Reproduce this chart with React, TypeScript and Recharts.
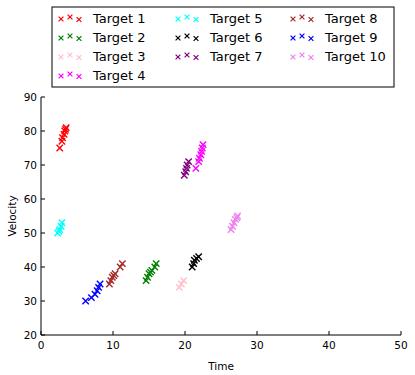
import React from "react";
import { ScatterChart, Scatter, XAxis, YAxis } from "recharts";

// time / velocity pairs, one list per target
const target1 = [[2.6, 75], [2.9, 77], [3.0, 78], [3.2, 79], [3.3, 80], [3.4, 80.5], [3.5, 81]];
const target2 = [[14.6, 36], [14.8, 37], [15.0, 38], [15.2, 38.5], [15.4, 39], [15.8, 40], [16.0, 41]];
const target3 = [[19.2, 34], [19.5, 35], [19.8, 36]];
const target4 = [[21.5, 69], [21.9, 71], [22.0, 72], [22.2, 73], [22.3, 74], [22.4, 75], [22.5, 76]];
const target5 = [[2.3, 50], [2.5, 50.5], [2.6, 51], [2.8, 52], [2.9, 53]];
const target6 = [[21.0, 40], [21.2, 41], [21.3, 42], [21.6, 42.5], [21.9, 43]];
const target7 = [[19.9, 67], [20.1, 68], [20.2, 69], [20.3, 70], [20.5, 71]];
const target8 = [[9.5, 35], [9.7, 36], [9.9, 37], [10.1, 37.5], [10.3, 38], [11.0, 40], [11.3, 41]];
const target9 = [[6.2, 30], [7.0, 31], [7.5, 32], [7.8, 33], [8.0, 34], [8.2, 35]];
const target10 = [[26.4, 51], [26.6, 52], [26.8, 53], [27.0, 54], [27.2, 54.5], [27.3, 55]];

const targetNames = ["Target 1", "Target 2", "Target 3", "Target 4", "Target 5", "Target 6", "Target 7", "Target 8", "Target 9", "Target 10"];
const targetColors = ["#ff0000", "#008000", "#ffc0cb", "#ff00ff", "#00ffff", "#000000", "#800080", "#a52a2a", "#0000ff", "#ee82ee"];
const targetPoints = [target1, target2, target3, target4, target5, target6, target7, target8, target9, target10];

const xTicks = [0, 10, 20, 30, 40, 50];
const yTicks = [20, 30, 40, 50, 60, 70, 80, 90];

const FONT = "DejaVu Sans, sans-serif";
const AXIS_FONT = 10.5;

const makeMark = (color: string, r = 3.2, w = 1.4) => (props: any) => {
  const { cx, cy } = props;
  return (
    <path
      d={`M${cx - r},${cy - r}L${cx + r},${cy + r}M${cx - r},${cy + r}L${cx + r},${cy - r}`}
      stroke={color}
      strokeWidth={w}
      fill="none"
    />
  );
};

const BottomTick = ({ x, y, payload }: any) => (
  <g>
    <line x1={x} x2={x} y1={y} y2={y - 4} stroke="#000" />
    <text x={x} y={y + 14} textAnchor="middle" fontSize={AXIS_FONT} fontFamily={FONT} fill="#000">
      {payload.value}
    </text>
  </g>
);

const TopTick = ({ x, y }: any) => <line x1={x} x2={x} y1={y} y2={y + 4} stroke="#000" />;

const LeftTick = ({ x, y, payload }: any) => (
  <g>
    <line x1={x} x2={x + 4} y1={y} y2={y} stroke="#000" />
    <text x={x - 4} y={y} dy="0.36em" textAnchor="end" fontSize={AXIS_FONT} fontFamily={FONT} fill="#000">
      {payload.value}
    </text>
  </g>
);

const RightTick = ({ x, y }: any) => <line x1={x} x2={x - 4} y1={y} y2={y} stroke="#000" />;

// legend columns, matplotlib style (column-major, 4 rows)
const legendColumns = [[0, 1, 2, 3], [4, 5, 6], [7, 8, 9]];
const legendColX = [61, 178, 293];

const LegendBox = () => (
  <svg
    width={344}
    height={82}
    style={{ position: "absolute", left: 51, top: 6 }}
  >
    <rect x={1} y={1} width={342} height={80} fill="#fff" stroke="#000" strokeWidth={1} />
    {legendColumns.map((col, ci) =>
      col.map((idx, ri) => {
        const bx = legendColX[ci] - 51;
        const cy = 12.5 + ri * 19;
        const mark = makeMark(targetColors[idx], 2.4, 1.2);
        return (
          <g key={idx}>
            {mark({ cx: bx, cy: cy + 0.5 })}
            {mark({ cx: bx + 9, cy: cy - 1.5 })}
            {mark({ cx: bx + 18, cy: cy + 1 })}
            <text x={bx + 32} y={cy} dy="0.36em" fontSize={13} fontFamily={FONT} fill="#000">
              {targetNames[idx]}
            </text>
          </g>
        );
      })
    )}
  </svg>
);

export default function App() {
  return (
    <div style={{ position: "absolute", left: 0, top: 0, width: 415, height: 375, background: "#fff" }}>
      <ScatterChart width={415} height={375} margin={{ top: 97, right: 14, bottom: 0, left: 0 }}>
        <XAxis
          xAxisId="b"
          type="number"
          dataKey="x"
          domain={[0, 50]}
          ticks={xTicks}
          interval={0}
          height={40}
          tickSize={0}
          tickMargin={0}
          tickLine={false}
          axisLine={{ stroke: "#000" }}
          tick={<BottomTick />}
          label={{
            value: "Time",
            position: "insideBottom",
            offset: 5,
            fontSize: AXIS_FONT,
            fontFamily: FONT,
            fill: "#000",
          }}
        />
        <XAxis
          xAxisId="t"
          orientation="top"
          type="number"
          domain={[0, 50]}
          ticks={xTicks}
          interval={0}
          height={0}
          tickSize={0}
          tickMargin={0}
          tickLine={false}
          axisLine={{ stroke: "#000" }}
          tick={<TopTick />}
        />
        <YAxis
          yAxisId="l"
          type="number"
          dataKey="y"
          domain={[20, 90]}
          ticks={yTicks}
          interval={0}
          width={41}
          tickSize={0}
          tickMargin={0}
          tickLine={false}
          axisLine={{ stroke: "#000" }}
          tick={<LeftTick />}
          label={{
            content: ({ viewBox }: any) => {
              const cy = viewBox.y + viewBox.height / 2;
              return (
                <text
                  x={12}
                  y={cy}
                  transform={`rotate(-90, 12, ${cy})`}
                  textAnchor="middle"
                  dy="0.36em"
                  fontSize={AXIS_FONT}
                  fontFamily={FONT}
                  fill="#000"
                >
                  Velocity
                </text>
              );
            },
          }}
        />
        <YAxis
          yAxisId="r"
          orientation="right"
          type="number"
          domain={[20, 90]}
          ticks={yTicks}
          interval={0}
          width={0}
          tickSize={0}
          tickMargin={0}
          tickLine={false}
          axisLine={{ stroke: "#000" }}
          tick={<RightTick />}
        />
        {targetPoints.map((pts, i) => (
          <Scatter
            key={targetNames[i]}
            name={targetNames[i]}
            xAxisId="b"
            yAxisId="l"
            data={pts.map(([x, y]) => ({ x, y }))}
            fill={targetColors[i]}
            shape={makeMark(targetColors[i])}
            isAnimationActive={false}
          />
        ))}
      </ScatterChart>
      <LegendBox />
    </div>
  );
}
